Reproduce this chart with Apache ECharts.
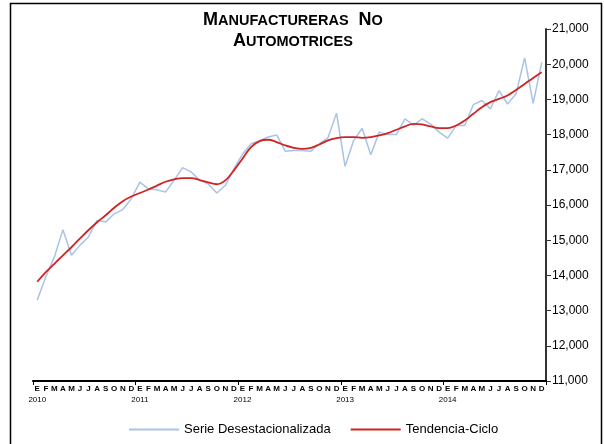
<!DOCTYPE html>
<html>
<head>
<meta charset="utf-8">
<script src="https://cdn.jsdelivr.net/npm/echarts@6/dist/echarts.min.js"></script>
<style>html,body{margin:0;padding:0;background:#fff}#c{width:604px;height:444px}</style>
</head>
<body>
<div id="c"></div>
<script>
const monthLetters = ['E','F','M','A','M','J','J','A','S','O','N','D'];
const years = ['2010','2011','2012','2013','2014'];
const serieDesest = [
  13300, 13960, 14525, 15300, 14570, 14860, 15100, 15565, 15520, 15750, 15870, 16180,
  16650, 16460, 16430, 16370, 16700, 17060, 16940, 16700, 16600, 16340, 16560, 17030,
  17440, 17740, 17830, 17930, 17990, 17530, 17550, 17550, 17530, 17740, 17910, 18610,
  17100, 17830, 18180, 17430, 18070, 18000, 18000, 18450, 18260, 18450, 18300, 18070,
  17900, 18260, 18260, 18850, 18970, 18730, 19250, 18870, 19160, 20180, 18890, 20050
];
const tendenciaCiclo = [
  13820, 14090, 14330, 14570, 14800, 15050, 15290, 15510, 15710, 15920, 16110, 16240,
  16340, 16440, 16550, 16660, 16728, 16766, 16766, 16710, 16640, 16590, 16699, 16983,
  17314, 17645, 17815, 17853, 17787, 17692, 17626, 17597, 17626, 17720, 17834, 17900,
  17928, 17928, 17909, 17928, 17976, 18043, 18137, 18231, 18307, 18288, 18231, 18184,
  18184, 18260, 18401, 18590, 18779, 18921, 19015, 19110, 19270, 19440, 19611, 19771
];
const seriesNames = ['Serie Desestacionalizada', 'Tendencia-Ciclo'];

const categories = [];
years.forEach(y => monthLetters.forEach((m, i) => categories.push(i === 0 ? m + '|' + y : m)));

const chart = echarts.init(document.getElementById('c'), null, {renderer: 'canvas'});
chart.setOption({
  backgroundColor: '#ffffff',
  animation: false,
  graphic: [
    {type: 'rect', shape: {x: 10.5, y: 3.5, width: 591, height: 460}, style: {fill: 'none', stroke: '#000', lineWidth: 1.5}, silent: true},
    {type: 'text', x: 293, y: 10, style: {
      text: '{b|M}{s|ANUFACTURERAS}   {b|N}{s|O}\n{b|A}{s|UTOMOTRICES}',
      align: 'center', fill: '#000',
      rich: {
        b: {fontFamily: 'Arial, Liberation Sans, sans-serif', fontSize: 18, fontWeight: 'bold', lineHeight: 21, fill: '#000'},
        s: {fontFamily: 'Arial, Liberation Sans, sans-serif', fontSize: 14.5, fontWeight: 'bold', lineHeight: 21, fill: '#000'}
      }
    }}
  ],
  legend: {
    bottom: 3,
    left: 124,
    itemWidth: 50,
    itemHeight: 2,
    itemGap: 20,
    icon: 'rect',
    textStyle: {fontFamily: 'Arial, Liberation Sans, sans-serif', fontSize: 13, color: '#000'},
    data: seriesNames
  },
  grid: {left: 33, right: 58, top: 29, height: 352, containLabel: false},
  xAxis: {
    type: 'category',
    data: categories,
    boundaryGap: true,
    axisLine: {lineStyle: {color: '#000', width: 2}},
    axisTick: {show: true, length: 4, interval: function (i) { return i % 12 === 0; }, lineStyle: {color: '#000', width: 1}},
    axisLabel: {
      interval: 0,
      margin: 3,
      formatter: function (v) {
        const p = v.split('|');
        return p.length > 1 ? '{m|' + p[0] + '}\n{y|' + p[1] + '}' : '{m|' + p[0] + '}';
      },
      rich: {
        m: {fontFamily: 'Arial, Liberation Sans, sans-serif', fontSize: 8, fontWeight: 'bold', color: '#000', lineHeight: 10},
        y: {fontFamily: 'Arial, Liberation Sans, sans-serif', fontSize: 8, color: '#000', lineHeight: 11}
      }
    },
    splitLine: {show: false}
  },
  yAxis: {
    type: 'value',
    position: 'right',
    min: 11000,
    max: 21000,
    interval: 1000,
    axisLine: {show: true, lineStyle: {color: '#333', width: 2}},
    axisTick: {show: true, inside: false, length: 5, lineStyle: {color: '#333', width: 1}},
    axisLabel: {
      margin: 6,
      fontFamily: 'Arial, Liberation Sans, sans-serif',
      fontSize: 12,
      color: '#000',
      formatter: function (v) { return v.toLocaleString('en-US'); }
    },
    splitLine: {show: false}
  },
  series: [
    {name: seriesNames[0], type: 'line', data: serieDesest, symbol: 'none',
     lineStyle: {color: '#a9c3e6', width: 1.5}, itemStyle: {color: '#a9c3e6'}},
    {name: seriesNames[1], type: 'line', data: tendenciaCiclo, symbol: 'none', smooth: 0.4,
     lineStyle: {color: '#d02424', width: 1.8}, itemStyle: {color: '#d02424'}}
  ]
});
</script>
</body>
</html>
